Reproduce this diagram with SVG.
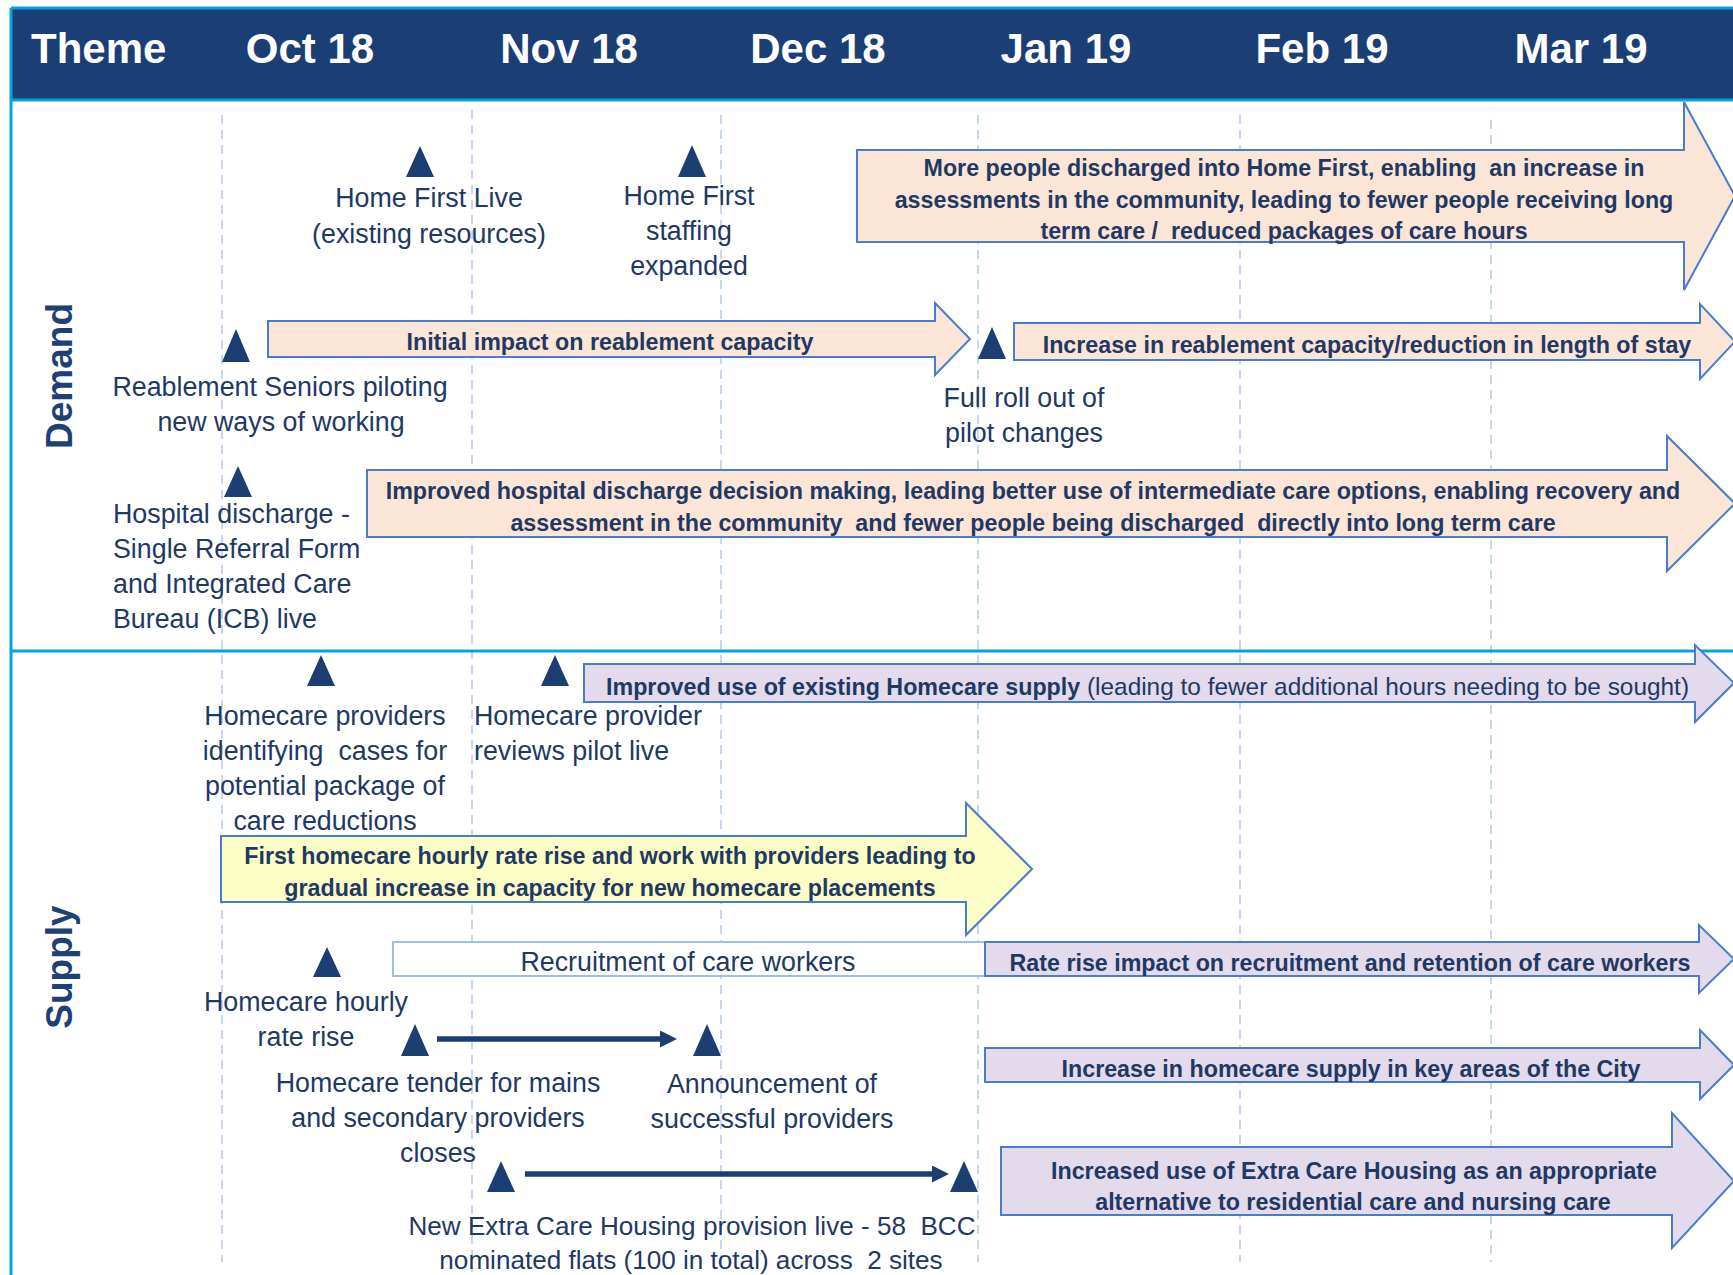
<svg xmlns="http://www.w3.org/2000/svg" width="1733" height="1275" viewBox="0 0 1733 1275">
<defs>
<style>
.hdr{font-family:"Liberation Sans",Arial,sans-serif;font-weight:bold;font-size:42px;fill:#ffffff}
.lbl{font-family:"Liberation Sans",Arial,sans-serif;font-size:26.8px;fill:#1F3864;white-space:pre}
.bl{font-family:"Liberation Sans",Arial,sans-serif;font-weight:bold;font-size:23.25px;fill:#1F3864;white-space:pre}
.rg{font-weight:normal;font-size:24.4px}
.theme{font-family:"Liberation Sans",Arial,sans-serif;font-weight:bold;font-size:37px;fill:#1F3F75}
.tri{fill:#1C3E72}
.grid{stroke:#B7CFEC;stroke-width:1.6;stroke-dasharray:9 6;fill:none}
.sep{stroke:#00A3DB;stroke-width:3;fill:none}
.peach{fill:#FBE5D6;stroke:#4A7CCB;stroke-width:2}
.lav{fill:#E3DAEC;stroke:#4A7CCB;stroke-width:2}
.yel{fill:#FDFEC6;stroke:#4A7CCB;stroke-width:2}
.wbox{fill:#ffffff;stroke:#9DBFE6;stroke-width:2}
.conn{stroke:#1C3E72;stroke-width:5.5;fill:none}
</style>
<marker id="ah" markerUnits="userSpaceOnUse" markerWidth="18" markerHeight="18" refX="0" refY="8.5" orient="auto">
<path d="M0,0 L17,8.5 L0,17 z" fill="#1C3E72"/>
</marker>
</defs>
<rect width="1733" height="1275" fill="#ffffff"/>

<g id="header">
<rect x="11" y="9" width="1722" height="91" fill="#1B3E74"/>
<line class="sep" x1="11" y1="8" x2="1733" y2="8"/>
<line class="sep" x1="11" y1="100" x2="1733" y2="100"/>
<text class="hdr" x="31" y="63">Theme</text>
<text class="hdr" x="310" y="63" text-anchor="middle">Oct 18</text>
<text class="hdr" x="569" y="63" text-anchor="middle">Nov 18</text>
<text class="hdr" x="818" y="63" text-anchor="middle">Dec 18</text>
<text class="hdr" x="1066" y="63" text-anchor="middle">Jan 19</text>
<text class="hdr" x="1322" y="63" text-anchor="middle">Feb 19</text>
<text class="hdr" x="1581" y="63" text-anchor="middle">Mar 19</text>
</g>

<g id="grid">
<line class="grid" x1="222" y1="115" x2="222" y2="1262"/>
<line class="grid" x1="472" y1="110" x2="472" y2="1272"/>
<line class="grid" x1="721" y1="115" x2="721" y2="1262"/>
<line class="grid" x1="978" y1="115" x2="978" y2="1262"/>
<line class="grid" x1="1240" y1="115" x2="1240" y2="1262"/>
<line class="grid" x1="1491" y1="120" x2="1491" y2="1262"/>
</g>

<g id="frame">
<line class="sep" x1="11" y1="8" x2="11" y2="1275"/>
<line class="sep" x1="11" y1="651" x2="1733" y2="651"/>
<text class="theme" transform="translate(72,376) rotate(-90)" text-anchor="middle">Demand</text>
<text class="theme" transform="translate(72,967) rotate(-90)" text-anchor="middle">Supply</text>
</g>

<!-- Demand -->
<g id="home-first-live">
<path class="tri" d="M420,146 L434,177 L406,177 z"/>
<text class="lbl" text-anchor="middle"><tspan x="429" y="207">Home First Live</tspan><tspan x="429" y="243">(existing resources)</tspan></text>
</g>
<g id="home-first-staffing">
<path class="tri" d="M692,145 L706,177 L678,177 z"/>
<text class="lbl" text-anchor="middle"><tspan x="689" y="205">Home First</tspan><tspan x="689" y="240">staffing</tspan><tspan x="689" y="275">expanded</tspan></text>
</g>
<g id="more-people-discharged">
<path class="peach" d="M857,150 L1684,150 L1684,102 L1735,196 L1684,290 L1684,242 L857,242 z"/>
<text class="bl" text-anchor="middle"><tspan x="1284" y="176">More people discharged into Home First, enabling  an increase in</tspan><tspan x="1284" y="208">assessments in the community, leading to fewer people receiving long</tspan><tspan x="1284" y="239">term care /  reduced packages of care hours</tspan></text>
</g>
<g id="reablement-seniors">
<path class="tri" d="M236,329 L250,362 L222,362 z"/>
<text class="lbl" text-anchor="middle"><tspan x="280" y="396">Reablement Seniors piloting</tspan><tspan x="281" y="431">new ways of working</tspan></text>
</g>
<g id="initial-impact">
<path class="peach" d="M268,321 L935,321 L935,303 L970,339 L935,375 L935,357 L268,357 z"/>
<text class="bl" x="610" y="350" text-anchor="middle">Initial impact on reablement capacity</text>
</g>
<g id="full-roll-out">
<path class="tri" d="M992,327 L1006,359 L978,359 z"/>
<text class="lbl" text-anchor="middle"><tspan x="1024" y="407">Full roll out of</tspan><tspan x="1024" y="442">pilot changes</tspan></text>
</g>
<g id="increase-reablement">
<path class="peach" d="M1014,323 L1700,323 L1700,304 L1735,341.5 L1700,379 L1700,360 L1014,360 z"/>
<text class="bl" x="1367" y="353" text-anchor="middle">Increase in reablement capacity/reduction in length of stay</text>
</g>
<g id="hospital-discharge">
<path class="tri" d="M238,466 L252,497 L224,497 z"/>
<text class="lbl"><tspan x="113" y="523">Hospital discharge -</tspan><tspan x="113" y="558">Single Referral Form</tspan><tspan x="113" y="593">and Integrated Care</tspan><tspan x="113" y="628">Bureau (ICB) live</tspan></text>
</g>
<g id="improved-hospital-discharge">
<path class="peach" d="M367,470 L1667,470 L1667,436 L1735,503.5 L1667,571 L1667,537 L367,537 z"/>
<text class="bl" text-anchor="middle"><tspan x="1033" y="499">Improved hospital discharge decision making, leading better use of intermediate care options, enabling recovery and</tspan><tspan x="1033" y="531">assessment in the community  and fewer people being discharged  directly into long term care</tspan></text>
</g>

<!-- Supply -->
<g id="homecare-providers-identifying">
<path class="tri" d="M321,655 L335,686 L307,686 z"/>
<text class="lbl" text-anchor="middle"><tspan x="325" y="725">Homecare providers</tspan><tspan x="325" y="760">identifying  cases for</tspan><tspan x="325" y="795">potential package of</tspan><tspan x="325" y="830">care reductions</tspan></text>
</g>
<g id="homecare-provider-reviews">
<path class="tri" d="M555,655 L569,686 L541,686 z"/>
<text class="lbl"><tspan x="474" y="725">Homecare provider</tspan><tspan x="474" y="760">reviews pilot live</tspan></text>
</g>
<g id="improved-use-homecare">
<path class="lav" d="M584,664 L1695,664 L1695,645 L1734,683 L1695,722 L1695,702 L584,702 z"/>
<text class="bl" x="606" y="695">Improved use of existing Homecare supply<tspan class="rg"> (leading to fewer additional hours needing to be sought)</tspan></text>
</g>
<g id="first-rate-rise">
<path class="yel" d="M221,836 L966,836 L966,803 L1032,869 L966,935 L966,902 L221,902 z"/>
<text class="bl" text-anchor="middle"><tspan x="610" y="864">First homecare hourly rate rise and work with providers leading to</tspan><tspan x="610" y="896">gradual increase in capacity for new homecare placements</tspan></text>
</g>
<g id="recruitment">
<rect class="wbox" x="393" y="942" width="592" height="34"/>
<text class="lbl" x="688" y="971" text-anchor="middle">Recruitment of care workers</text>
</g>
<g id="rate-rise-impact">
<path class="lav" d="M985,942 L1699,942 L1699,925 L1734,959 L1699,993 L1699,976 L985,976 z"/>
<text class="bl" x="1350" y="971" text-anchor="middle">Rate rise impact on recruitment and retention of care workers</text>
</g>
<g id="homecare-hourly-rate-rise">
<path class="tri" d="M327,947 L341,977 L313,977 z"/>
<text class="lbl" text-anchor="middle"><tspan x="306" y="1011">Homecare hourly</tspan><tspan x="306" y="1046">rate rise</tspan></text>
</g>
<g id="homecare-tender">
<path class="tri" d="M415,1024 L429,1056 L401,1056 z"/>
<text class="lbl" text-anchor="middle"><tspan x="438" y="1092">Homecare tender for mains</tspan><tspan x="438" y="1127">and secondary providers</tspan><tspan x="438" y="1162">closes</tspan></text>
</g>
<g id="announcement">
<path class="tri" d="M707,1024 L721,1056 L693,1056 z"/>
<text class="lbl" text-anchor="middle"><tspan x="772" y="1093">Announcement of</tspan><tspan x="772" y="1128">successful providers</tspan></text>
</g>
<g id="increase-homecare-supply">
<path class="lav" d="M985,1048 L1700,1048 L1700,1030 L1734,1065 L1700,1099 L1700,1082 L985,1082 z"/>
<text class="bl" x="1351" y="1077" text-anchor="middle">Increase in homecare supply in key areas of the City</text>
</g>
<g id="ech-start">
<path class="tri" d="M501,1161 L515,1192 L487,1192 z"/>
<text class="lbl" text-anchor="middle" style="font-size:26.1px"><tspan x="692" y="1235">New Extra Care Housing provision live - 58  BCC</tspan><tspan x="691" y="1269">nominated flats (100 in total) across  2 sites</tspan></text>
</g>
<g id="ech-end">
<path class="tri" d="M964,1161 L978,1192 L950,1192 z"/>
</g>
<g id="increased-use-ech">
<path class="lav" d="M1001,1147 L1672,1147 L1672,1113 L1734,1181 L1672,1248 L1672,1215 L1001,1215 z"/>
<text class="bl" text-anchor="middle"><tspan x="1354" y="1179">Increased use of Extra Care Housing as an appropriate</tspan><tspan x="1353" y="1210">alternative to residential care and nursing care</tspan></text>
</g>

<g id="connectors">
<line class="conn" x1="437" y1="1039" x2="660" y2="1039" marker-end="url(#ah)"/>
<line class="conn" x1="525" y1="1174" x2="932" y2="1174" marker-end="url(#ah)"/>
</g>
</svg>
